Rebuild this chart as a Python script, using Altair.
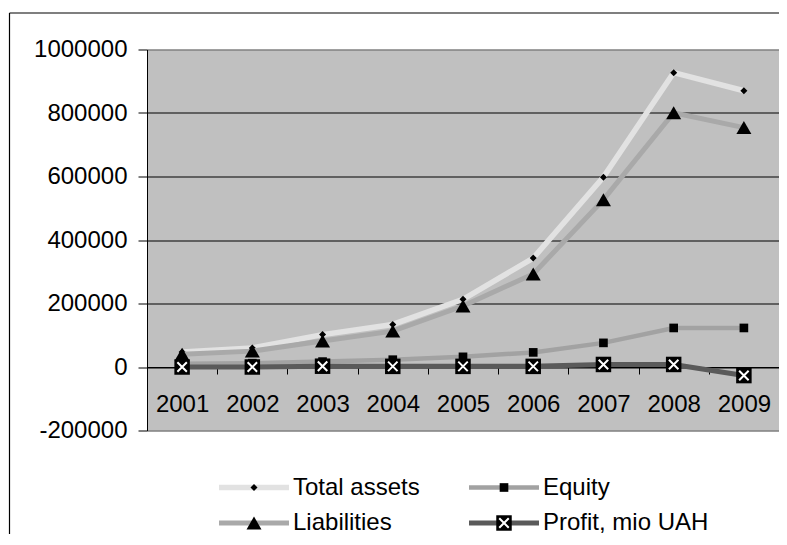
import altair as alt
import pandas as pd

years = ["2001", "2002", "2003", "2004", "2005", "2006", "2007", "2008", "2009"]
series_names = ["Total assets", "Equity", "Liabilities", "Profit, mio UAH"]
total_assets = [47000, 60000, 102000, 134000, 213000, 343000, 598000, 927000, 870000]
equity = [10000, 12000, 17000, 23000, 32000, 46000, 76000, 123000, 123000]
liabilities = [40000, 50000, 82000, 113000, 192000, 293000, 527000, 801000, 754000]
profit = [0, 0, 2500, 2000, 2000, 2000, 8000, 8000, -27000]
y_ticks = [-200000, 0, 200000, 400000, 600000, 800000, 1000000]

values = [total_assets, equity, liabilities, profit]
rows = []
for name, vals in zip(series_names, values):
    for yr, v in zip(years, vals):
        rows.append({"year": yr, "series": name, "value": v})
df = pd.DataFrame(rows)

legend_df = pd.DataFrame({
    "series": series_names,
    "col": [i % 2 for i in range(len(series_names))],
    "row": [i // 2 for i in range(len(series_names))],
})

# styles
FONT = "Liberation Sans"
FS = 24
W, H = 632, 381
line_colors = {"Total assets": "#E2E2E2", "Equity": "#A2A2A2",
               "Liabilities": "#A9A9A9", "Profit, mio UAH": "#5A5A5A"}
line_widths = {"Total assets": 5.5, "Equity": 4.5, "Liabilities": 5, "Profit, mio UAH": 5}
marker = {"Total assets": ("diamond", 49), "Equity": ("square", 75),
          "Liabilities": ("triangle-up", 225), "Profit, mio UAH": ("square", 240)}
xpath = "M-1,-1L1,1M1,-1L-1,1"

x_enc = alt.X(
    "year:N", sort=years,
    scale=alt.Scale(type="band", paddingInner=0, paddingOuter=0),
    axis=alt.Axis(title=None, orient="bottom", offset=-63.5, labelAngle=0,
                  labelFont=FONT, labelFontSize=FS, labelColor="black",
                  labelPadding=18, tickBand="extent", tickColor="black",
                  tickSize=7, domainColor="black", domainWidth=1, grid=False),
)
y_enc = alt.Y(
    "value:Q",
    scale=alt.Scale(domain=[-200000, 1000000], nice=False, zero=False),
    axis=alt.Axis(title=None, values=y_ticks, labelExpr="'' + datum.value",
                  labelFont=FONT, labelFontSize=FS, labelColor="black",
                  labelPadding=11, tickSize=9, tickColor="black",
                  domainColor="black", domainWidth=1, grid=True,
                  gridColor={"condition": {"test": "datum.value >= 1000000 || datum.value <= -200000",
                                           "value": "#808080"}, "value": "black"},
                  gridWidth=1),
)

main_layers = []
for name in series_names:
    base = alt.Chart(df).transform_filter(alt.datum.series == name)
    main_layers.append(
        base.mark_line(color=line_colors[name], strokeWidth=line_widths[name])
        .encode(x=x_enc, y=y_enc)
    )
    shape, size = marker[name]
    main_layers.append(
        base.mark_point(shape=shape, size=size, filled=True, color="black", opacity=1)
        .encode(x=x_enc, y=y_enc)
    )
    if name == "Profit, mio UAH":
        main_layers.append(
            base.mark_point(shape=xpath, size=90, filled=False, stroke="white",
                            strokeWidth=2, opacity=1)
            .encode(x=x_enc, y=y_enc)
        )
main = alt.layer(*main_layers)

lx = alt.X("col:Q", scale=alt.Scale(domain=[0, 1], range=[107, 357]), axis=None)
ly = alt.Y("row:Q", scale=alt.Scale(domain=[0, 1], range=[438, 473.5]), axis=None)
leg_layers = []
for name in series_names:
    b = alt.Chart(legend_df).transform_filter(alt.datum.series == name)
    leg_layers.append(
        b.mark_rule(color=line_colors[name], strokeWidth=line_widths[name],
                    xOffset=-35, x2Offset=35)
        .encode(x=lx, x2="col:Q", y=ly)
    )
    shape, size = marker[name]
    leg_layers.append(
        b.mark_point(shape=shape, size=size, filled=True, color="black", opacity=1)
        .encode(x=lx, y=ly)
    )
    if name == "Profit, mio UAH":
        leg_layers.append(
            b.mark_point(shape=xpath, size=90, filled=False, stroke="white",
                         strokeWidth=2, opacity=1)
            .encode(x=lx, y=ly)
        )
    leg_layers.append(
        b.mark_text(align="left", baseline="middle", dx=39, font=FONT,
                    fontSize=FS, color="black")
        .encode(x=lx, y=ly, text="series:N")
    )
legend = alt.layer(*leg_layers)

frame_df = pd.DataFrame({"k": [0]})
frame = alt.layer(
    alt.Chart(frame_df).mark_rule(color="black", strokeWidth=1.2).encode(
        x=alt.value(-137.5), x2=alt.value(700), y=alt.value(-36.5)),
    alt.Chart(frame_df).mark_rule(color="black", strokeWidth=1.2).encode(
        x=alt.value(-137.5), y=alt.value(-36.5), y2=alt.value(600)),
)

chart = alt.layer(main, legend, frame).resolve_scale(
    x="independent", y="independent"
).properties(
    width=W, height=H,
    padding={"left": 139, "top": 41.5, "right": 0, "bottom": 103.5},
    autosize=alt.AutoSizeParams(type="none"),
    background="white",
).configure_view(fill="#C0C0C0", stroke="#808080", strokeWidth=1)

chart.save("out.html", embed_options={"renderer": "svg", "actions": False})
